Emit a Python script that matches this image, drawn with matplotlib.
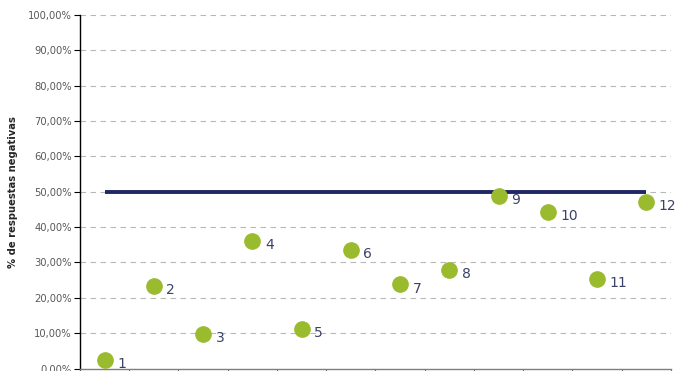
import matplotlib
matplotlib.use("Agg")
import matplotlib.pyplot as plt
from matplotlib.ticker import FuncFormatter, MultipleLocator, FixedLocator

# Data
items = [1, 2, 3, 4, 5, 6, 7, 8, 9, 10, 11, 12]
pct_negative = [2.4, 23.3, 9.7, 36.1, 11.3, 33.6, 23.8, 27.9, 48.8, 44.2, 25.4, 47.2]
threshold = [50.0] * 12

fig = plt.figure(figsize=(6.76, 3.71), dpi=100)
ax = fig.add_axes([0.1183, 0.0067, 0.8743, 0.9529])

x = list(range(len(items)))
ax.set_xlim(-0.5, len(items) - 0.5)
ax.set_ylim(0, 100)

# Dashed horizontal gridlines
ax.yaxis.set_major_locator(MultipleLocator(10))
ax.grid(axis="y", color="#b8b8b8", linestyle=(0, (5, 4)), linewidth=0.8)
ax.set_axisbelow(True)

# Threshold line
ax.plot(x, threshold, color="#1f2766", linewidth=2.8, solid_capstyle="butt", zorder=3)

# Points with their item numbers
ax.plot(x, pct_negative, linestyle="none", marker="o", markersize=11,
        color="#9bbb2f", markeredgecolor="#9bbb2f", zorder=4)
for xi, yi, lab in zip(x, pct_negative, items):
    ax.annotate(str(lab), (xi, yi), xytext=(9, -3), textcoords="offset points",
                ha="left", va="center", fontsize=10, color="#3b4266", zorder=5,
                annotation_clip=False)

ax.yaxis.set_major_formatter(FuncFormatter(lambda v, p: f"{v:.2f}%".replace(".", ",")))
ax.tick_params(axis="y", labelsize=7.2, colors="#000000", labelcolor="#595959",
               length=4, width=0.8, pad=2)

ax.xaxis.set_major_locator(FixedLocator([i - 0.5 for i in range(len(items) + 1)]))
ax.tick_params(axis="x", length=6, width=0.8, colors="#6e6e6e", labelbottom=False,
               direction="out")

for side in ("top", "right"):
    ax.spines[side].set_visible(False)
ax.spines["left"].set_color("#000000")
ax.spines["left"].set_linewidth(1.0)
ax.spines["bottom"].set_color("#7f7f7f")
ax.spines["bottom"].set_linewidth(1.0)

ax.set_ylabel("% de respuestas negativas", fontsize=7.2, fontweight="bold",
              color="#262626", labelpad=7)

fig.savefig("out.png", dpi=100)
